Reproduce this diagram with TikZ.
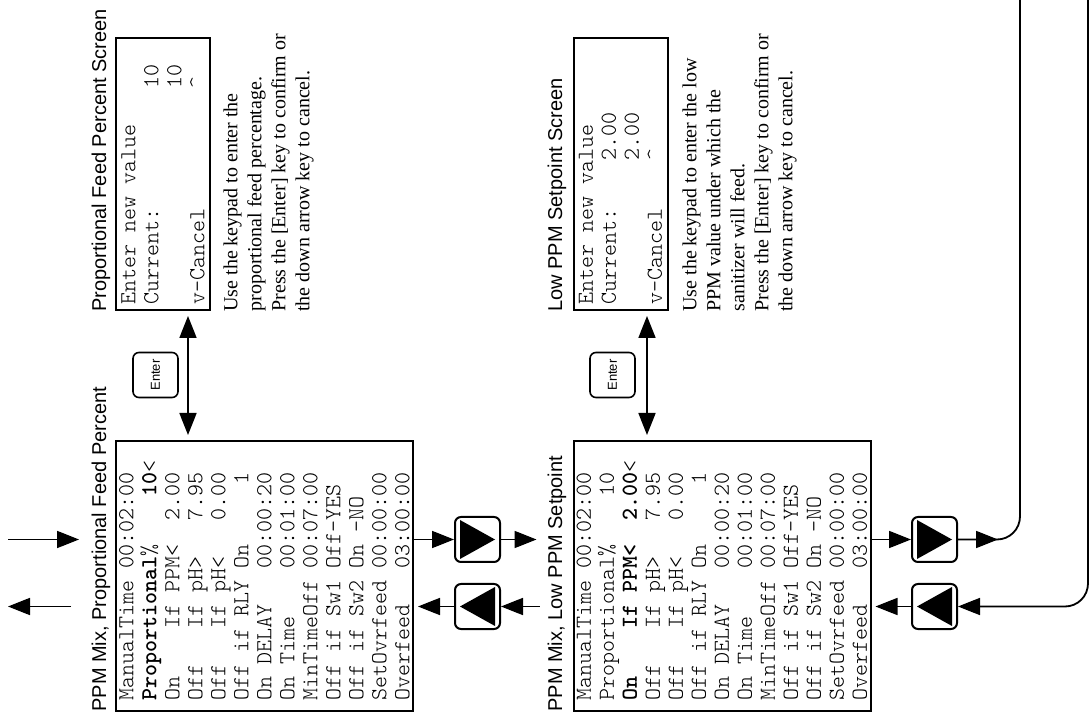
\documentclass[tikz,border=0pt]{standalone}
\usepackage{fontspec}
\setmainfont{Liberation Serif}
\setsansfont{Liberation Sans}
\setmonofont{lmmonolt10-regular.otf}[BoldFont=lmmonolt10-bold.otf]
\usetikzlibrary{arrows.meta,calc}
% blank columns of the display, one per character
\newcommand{\gap}[1]{\hspace*{#1\fontcharwd\font`0}}

\begin{document}
\begin{tikzpicture}[rotate=90, transform shape, x=0.5pt, y=0.5pt,
    menubox/.style={draw, line width=1pt, minimum width=135pt, minimum height=148.5pt,
                    text width=125pt, inner xsep=5pt, inner ysep=0pt, align=left,
                    font=\ttfamily\fontsize{11.43}{11.5}\selectfont},
    screenbox/.style={menubox, minimum width=136pt, minimum height=47pt,
                      text width=131pt, inner xsep=2.5pt},
    boxtitle/.style={anchor=base west, inner sep=0pt, font=\sffamily\fontsize{10}{12}\selectfont},
    helptext/.style={anchor=north west, inner sep=0pt, align=left,
                     font=\rmfamily\fontsize{10}{12}\selectfont},
    navkey/.style={draw, line width=1pt, rounded corners=3pt, minimum size=22.5pt, inner sep=0pt},
    enterkey/.style={navkey, line width=0.8pt, font=\sffamily\fontsize{6.5}{7}\selectfont},
    arr/.style={line width=0.9pt, -{Triangle[length=11pt,width=8.5pt]}},
    dbl/.style={arr, {Triangle[length=11pt,width=8.5pt]}-{Triangle[length=11pt,width=8.5pt]},
                shorten <=2.5pt, shorten >=2.5pt}]
  \useasboundingbox (0,0) rectangle (719,-1089);

  % menu screens
  \node[menubox] (m1) at (143,-264.5) {ManualTime\gap{1}00:02:00\\
    \textbf{Proportional}\%\gap{4}\textbf{10}<\\
    On\gap{4}If\gap{1}PPM<\gap{2}2.00\\
    Off\gap{3}If\gap{1}pH>\gap{3}7.95\\
    Off\gap{3}If\gap{1}pH<\gap{3}0.00\\
    Off\gap{1}if\gap{1}RLY\gap{1}On\gap{5}1\\
    On\gap{1}DELAY\gap{3}00:00:20\\
    On\gap{1}Time\gap{4}00:01:00\\
    MinTimeOff\gap{1}00:07:00\\
    Off\gap{1}if\gap{1}Sw1\gap{1}Off-YES\\
    Off\gap{1}if\gap{1}Sw2\gap{1}On\gap{1}-NO\\
    SetOvrfeed\gap{1}00:00:00\\
    Overfeed\gap{3}03:00:00};
  \node[menubox] (m2) at (143,-722) {ManualTime\gap{1}00:02:00\\
    Proportional\%\gap{4}10\\
    \textbf{On\gap{4}If\gap{1}PPM<\gap{2}2.00}<\\
    Off\gap{3}If\gap{1}pH>\gap{3}7.95\\
    Off\gap{3}If\gap{1}pH<\gap{3}0.00\\
    Off\gap{1}if\gap{1}RLY\gap{1}On\gap{5}1\\
    On\gap{1}DELAY\gap{3}00:00:20\\
    On\gap{1}Time\gap{4}00:01:00\\
    MinTimeOff\gap{1}00:07:00\\
    Off\gap{1}if\gap{1}Sw1\gap{1}Off-YES\\
    Off\gap{1}if\gap{1}Sw2\gap{1}On\gap{1}-NO\\
    SetOvrfeed\gap{1}00:00:00\\
    Overfeed\gap{3}03:00:00};
  \node[boxtitle] (t1) at (7,-106) {PPM Mix, Proportional Feed Percent};
  \node[boxtitle] (t3) at (7,-562) {PPM Mix, Low PPM Setpoint};

  % entry screens
  \node[screenbox] (s1) at (545,-163) {Enter\gap{1}new\gap{1}value\\
    Current:\gap{10}10\\
    \gap{18}10\\
    v-Cancel\gap{10}\textasciicircum};
  \node[screenbox] (s2) at (545,-620.5) {Enter\gap{1}new\gap{1}value\\
    Current:\gap{4}2.00\\
    \gap{12}2.00\\
    v-Cancel\gap{4}\textasciicircum};
  \node[boxtitle] (t2) at (407,-106) {Proportional Feed Percent Screen};
  \node[boxtitle] (t4) at (407,-562) {Low PPM Setpoint Screen};
  \node[helptext] (d1) at (407,-223) {Use the keypad to enter the\\
    proportional feed percentage.\\
    Press the [Enter] key to confirm or\\
    the down arrow key to cancel.};
  \node[helptext] (d2) at (407,-682) {Use the keypad to enter the low\\
    PPM value under which the\\
    sanitizer will feed.\\
    Press the [Enter] key to confirm or\\
    the down arrow key to cancel.};

  % keys
  \node[enterkey] (k1) at (344,-155.5) {Enter};
  \node[enterkey] (k2) at (344,-612.5) {Enter};
  \node[navkey] (dn1) at (179.5,-477.5) {};
  \node[navkey] (up1) at (112.5,-477.5) {};
  \node[navkey] (dn2) at (179.5,-934.5) {};
  \node[navkey] (up2) at (112.5,-934.5) {};
  \foreach \k in {dn1,dn2}
    \fill ($(\k.center)+(-19.5,17.5)$) -- ++(39,0) -- ++(-19.5,-35) -- cycle;
  \foreach \k in {up1,up2}
    \fill ($(\k.center)+(-19.5,-17.5)$) -- ++(39,0) -- ++(-19.5,35) -- cycle;

  % connectors
  \coordinate (in1) at (179.5,-8);
  \coordinate (out1) at (112.5,-8);
  \coordinate (e1) at (344,-188);
  \coordinate (e2) at (344,-647);
  \coordinate (o2) at (719,-1020);
  \coordinate (i2) at (719,-1088);
  \draw[arr, shorten >=18pt] (in1) -- (in1 |- m1.north);
  \draw[arr, shorten <=22pt] (out1 |- m1.north) -- (out1);
  \draw[dbl] (e1 -| m1.east) -- (e1 -| s1.west);
  \draw[dbl] (e2 -| m2.east) -- (e2 -| s2.west);
  \draw[arr] (dn1 |- m1.south) -- (dn1.north);
  \draw[arr, shorten >=18pt] (dn1.south) -- (dn1 |- m2.north);
  \draw[arr, shorten <=16.5pt] (up1 |- m2.north) -- (up1.south);
  \draw[arr, shorten >=2pt] (up1.north) -- (up1 |- m1.south);
  \draw[arr] (dn2 |- m2.south) -- (dn2.north);
  \draw[arr] (dn2.south) -- ($(dn2.south)+(0,-40)$);
  \draw[line width=0.9pt, rounded corners=11.5pt] (dn2.south) |- (o2);
  \draw[arr, rounded corners=11.5pt] (i2) -| (up2.south);
  \draw[arr, shorten >=2pt] (up2.north) -- (up2 |- m2.south);
\end{tikzpicture}
\end{document}
